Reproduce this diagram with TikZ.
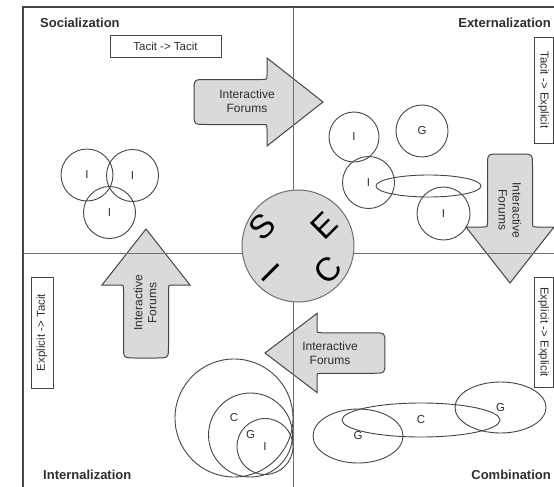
\documentclass[tikz,border=0pt]{standalone}
\usepackage{fontspec}
\setmainfont{Liberation Sans}
\usetikzlibrary{shapes.geometric}
\definecolor{linec}{HTML}{454545}
\definecolor{divc}{HTML}{6E6E6E}
\definecolor{fillc}{HTML}{DADADA}
\definecolor{txtc}{HTML}{2E2E2E}
\tikzset{
  circ/.style={circle, draw=linec, line width=0.9pt, inner sep=0pt, font=\fontsize{11.5}{12}\selectfont, text=txtc},
  ell/.style={ellipse, draw=linec, line width=0.9pt, inner sep=0pt, font=\fontsize{11.5}{12}\selectfont, text=txtc},
  quad/.style={font=\bfseries\fontsize{13}{15}\selectfont, inner sep=0pt, text=txtc},
  kbox/.style={draw=linec, line width=0.9pt, fill=white, inner sep=0pt, font=\fontsize{11.5}{13}\selectfont, text=txtc},
  arrowshape/.style={draw=linec, line width=1pt, fill=fillc},
  arrowtext/.style={align=center, font=\fontsize{12}{14}\selectfont, text=txtc, inner sep=0pt},
  secil/.style={font=\fontsize{33}{33}\selectfont, inner sep=0pt, text=black},
  divline/.style={draw=divc, line width=1pt},
}
\newcommand\forumarrow[3]{%
  \begin{scope}[shift={#1}, rotate=#2, #3]
    \draw[arrowshape] (0,0) -- (-56,44) -- (-56,27) .. controls (-56,22.5) .. (-61,22.5)
      -- (-117,22.5) .. controls (-129,22.5) .. (-129,10.5) -- (-129,-10.5)
      .. controls (-129,-22.5) .. (-117,-22.5) -- (-61,-22.5)
      .. controls (-56,-22.5) .. (-56,-27) -- (-56,-44) -- cycle;
  \end{scope}}
\begin{document}
\begin{tikzpicture}[x=1pt, y=-1pt]
  \useasboundingbox (0,0) rectangle (554,487);
  \clip (0,0) rectangle (554,487);
  \fill[white] (0,0) rectangle (554,487);
  % frame
  \draw[draw=linec, line width=1.6pt] (23,7) rectangle (600,540);
  % arrows
  \forumarrow{(323,102)}{0}{scale=1}
  \forumarrow{(510,283)}{-90}{scale=1}
  \forumarrow{(146,229)}{90}{scale=1}
  \forumarrow{(265,353)}{180}{xscale=0.93, yscale=0.9}
  \node[arrowtext] (a1) at (247,101) {Interactive\\Forums};
  \node[arrowtext, rotate=-90] (a2) at (510,210) {Interactive\\Forums};
  \node[arrowtext, rotate=90] (a3) at (145,303) {Interactive\\Forums};
  \node[arrowtext] (a4) at (330,353) {Interactive\\Forums};
  % dividers
  \draw[divline] (23,253) -- (554,253);
  \draw[divline] (293,7) -- (293,487);
  % centre circle
  \node[circle, draw=divc, line width=1pt, fill=fillc, minimum size=112pt, inner sep=0pt] (seci) at (298,246) {};
  \node[secil, rotate=45] (lS) at (262,227) {S};
  \node[secil, rotate=45] (lE) at (324,226) {E};
  \node[secil, rotate=45] (lC) at (328,270) {C};
  \node[secil, rotate=-45] (lI) at (271,273) {I};
  % quadrant titles
  \node[quad, anchor=west] (tSoc) at (40,23) {Socialization};
  \node[quad, anchor=east] (tExt) at (551,23) {Externalization};
  \node[quad, anchor=west] (tInt) at (43,475) {Internalization};
  \node[quad, anchor=east] (tCom) at (551,475) {Combination};
  % knowledge boxes
  \node[kbox, minimum width=111pt, minimum height=22pt] (b1) at (165.5,46) {Tacit -> Tacit};
  \node[kbox, rotate=-90, minimum width=106pt, minimum height=19pt] (b2) at (543.5,90) {Tacit -> Explicit};
  \node[kbox, rotate=90, minimum width=111pt, minimum height=22pt] (b3) at (42,332.5) {Explicit -> Tacit};
  \node[kbox, rotate=-90, minimum width=110pt, minimum height=19pt] (b4) at (543.5,332) {Explicit -> Explicit};
  % socialization circles
  \node[circ, minimum size=52pt] (s1) at (87,175) {I};
  \node[circ, minimum size=52pt] (s2) at (132.5,175.5) {I};
  \node[circ, minimum size=52pt] (s3) at (109.5,212.5) {I};
  % externalization
  \node[circ, minimum size=50pt] (e1) at (354,137) {I};
  \node[circ, minimum size=52pt] (e2) at (422,131) {G};
  \node[circ, minimum size=52pt] (e3) at (368.5,182.5) {I};
  \node[ell, minimum width=105pt, minimum height=22pt] (e4) at (428.5,186) {};
  \node[circ, minimum size=53pt] (e5) at (443.5,213.5) {I};
  % internalization
  \node[circ, minimum size=118pt] (i1) at (234,418) {C};
  \node[circ, minimum size=84pt] (i2) at (250.5,435) {G};
  \node[circ, minimum size=56pt] (i3) at (265,446.5) {I};
  % combination
  \node[ell, minimum width=90pt, minimum height=54pt] (c1) at (358,436) {G};
  \node[ell, minimum width=158pt, minimum height=34pt] (c2) at (421,420) {C};
  \node[ell, minimum width=91pt, minimum height=51pt] (c3) at (500.5,407.5) {G};
\end{tikzpicture}
\end{document}
